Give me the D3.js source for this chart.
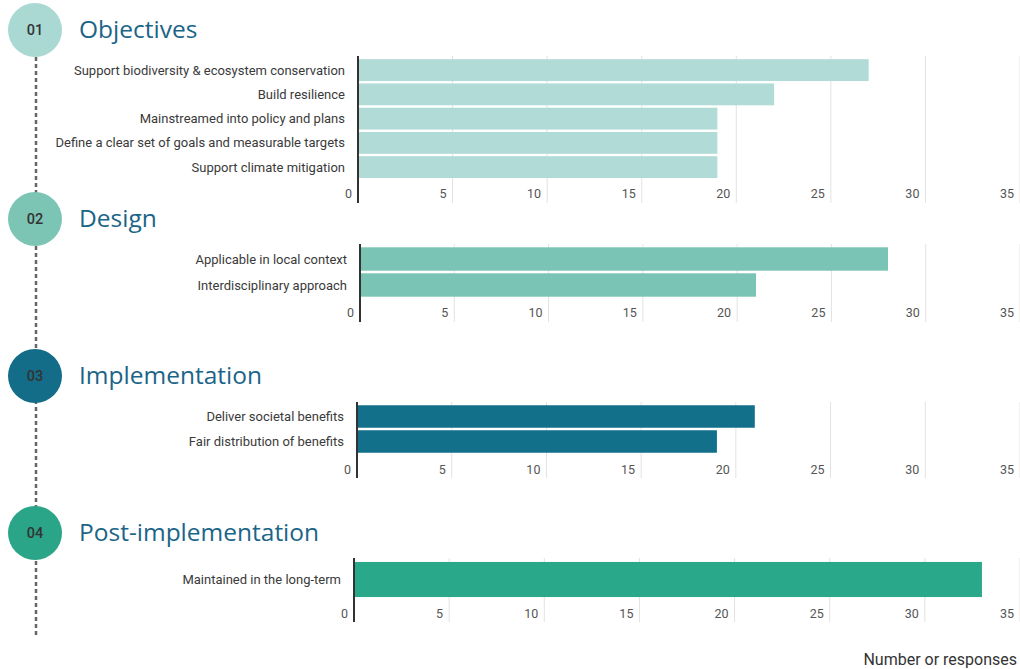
<!DOCTYPE html>
<html>
<head>
<meta charset="utf-8">
<script src="https://cdn.jsdelivr.net/npm/d3@7"></script>
<style>
  body { margin: 0; background: #fff; }
</style>
</head>
<body>
<div id="chart"></div>
<script>
/* values */
var sectionNums = ["01", "02", "03", "04"];
var sectionTitles = ["Objectives", "Design", "Implementation", "Post-implementation"];

var objectivesCats = ["Support biodiversity & ecosystem conservation", "Build resilience",
  "Mainstreamed into policy and plans", "Define a clear set of goals and measurable targets",
  "Support climate mitigation"];
var objectivesVals = [27, 22, 19, 19, 19];

var designCats = ["Applicable in local context", "Interdisciplinary approach"];
var designVals = [28, 21];

var implementationCats = ["Deliver societal benefits", "Fair distribution of benefits"];
var implementationVals = [21, 19];

var postCats = ["Maintained in the long-term"];
var postVals = [33];

var tickValues = [0, 5, 10, 15, 20, 25, 30, 35];
var xMax = 35;
var axisTitle = "Number or responses";

/* size of the graphic */
var width = 1020;
var height = 669;

var svg = d3.select("#chart")
  .append("svg")
    .attr("width", width)
    .attr("height", height);

/* layout of each block (circle, title, plot area) */
var layout = [
  { cy: 30, plotTop: 58, step: 24.25, axisBottom: 203, tickY: 198, x0: 358, circle: "#a9d9d2", bar: "#b0dbd7" },
  { cy: 219, plotTop: 246, step: 26, axisBottom: 322, tickY: 317, x0: 360, circle: "#7cc5b5", bar: "#79c4b4" },
  { cy: 376, plotTop: 404, step: 25, axisBottom: 478, tickY: 474, x0: 357, circle: "#136d88", bar: "#13708a" },
  { cy: 533, plotTop: 560, step: 39, axisBottom: 622, tickY: 618, x0: 354, circle: "#2aa587", bar: "#2aa88a" }
];
var cats = [objectivesCats, designCats, implementationCats, postCats];
var vals = [objectivesVals, designVals, implementationVals, postVals];

/* dashed timeline behind the circles */
svg.append("line")
  .attr("x1", 36).attr("x2", 36)
  .attr("y1", 50).attr("y2", 636)
  .style("stroke", "#666")
  .style("stroke-width", 2.5)
  .style("stroke-dasharray", "4, 3");

layout.forEach(function(L, i) {
  var g = svg.append("g");

  /* numbered circle and heading */
  g.append("circle")
    .attr("cx", 35).attr("cy", L.cy).attr("r", 27)
    .attr("fill", L.circle);
  g.append("text")
    .attr("x", 35).attr("y", L.cy + 5)
    .attr("text-anchor", "middle")
    .style("font-family", "Roboto, sans-serif")
    .style("font-size", "14.5px")
    .style("font-weight", 500)
    .style("fill", "#333")
    .text(sectionNums[i]);
  g.append("text")
    .attr("x", 79).attr("y", L.cy + 8)
    .style("font-family", "'Open Sans', sans-serif")
    .style("font-size", "24.5px")
    .style("fill", "#1b6588")
    .text(sectionTitles[i]);

  /* scales */
  var n = cats[i].length;
  var x = d3.scaleLinear().domain([0, xMax]).range([L.x0, 1020]);
  var y = d3.scaleBand()
    .domain(cats[i])
    .range([L.plotTop, L.plotTop + n * L.step])
    .paddingInner(0.1)
    .paddingOuter(0.05);

  /* grid lines */
  g.selectAll(".grid")
    .data(tickValues.slice(1))
    .enter().append("line")
      .attr("x1", function(d) { return x(d); })
      .attr("x2", function(d) { return x(d); })
      .attr("y1", L.plotTop - 2)
      .attr("y2", L.axisBottom)
      .style("stroke", "#e2e2e2")
      .style("stroke-width", 1);

  /* bars */
  g.selectAll(".bar")
    .data(vals[i])
    .enter().append("rect")
      .attr("x", x(0))
      .attr("y", function(d, j) { return y(cats[i][j]); })
      .attr("width", function(d) { return x(d) - x(0); })
      .attr("height", y.bandwidth())
      .attr("fill", L.bar);

  /* category labels */
  g.selectAll(".cat")
    .data(cats[i])
    .enter().append("text")
      .attr("x", L.x0 - 13)
      .attr("y", function(d) { return y(d) + y.bandwidth() / 2 + 4.5; })
      .attr("text-anchor", "end")
      .style("font-family", "Roboto, sans-serif")
      .style("font-size", "13px")
      .style("fill", "#3a3a3a")
      .text(function(d) { return d; });

  /* tick labels, to the left of each grid line */
  g.selectAll(".tick")
    .data(tickValues)
    .enter().append("text")
      .attr("x", function(d) { return x(d) - 6; })
      .attr("y", L.tickY)
      .attr("text-anchor", "end")
      .style("font-family", "Roboto, sans-serif")
      .style("font-size", "12.5px")
      .style("fill", "#555")
      .text(function(d) { return d; });

  /* zero axis */
  g.append("line")
    .attr("x1", x(0)).attr("x2", x(0))
    .attr("y1", L.plotTop - 2)
    .attr("y2", L.axisBottom)
    .style("stroke", "#333")
    .style("stroke-width", 2);
});

svg.append("text")
  .attr("x", 1017).attr("y", 665)
  .attr("text-anchor", "end")
  .style("font-family", "Roboto, sans-serif")
  .style("font-size", "16px")
  .style("fill", "#333")
  .text(axisTitle);
</script>
</body>
</html>
